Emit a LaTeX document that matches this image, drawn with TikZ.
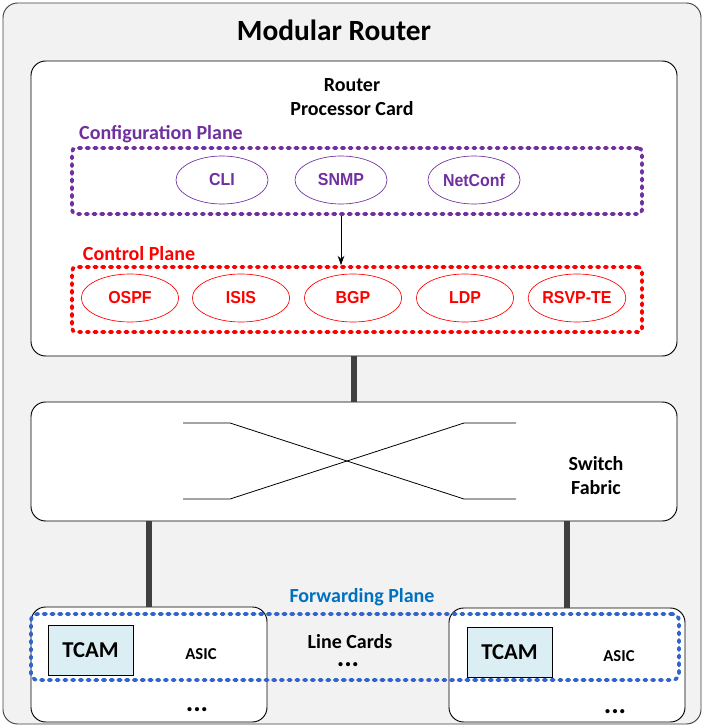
\documentclass[tikz,border=0pt]{standalone}
\usepackage{fontspec}
\setmainfont{Carlito}
\newfontfamily\protofont[FakeStretch=0.92]{Liberation Sans}
\usetikzlibrary{fit,shapes.geometric,arrows.meta,positioning}

\definecolor{cfgpurple}{RGB}{112,48,160}
\definecolor{fwdblue}{RGB}{50,100,205}
\definecolor{fwdtext}{RGB}{0,112,192}
\definecolor{panelgray}{RGB}{242,242,242}
\definecolor{tcamblue}{RGB}{218,238,243}
\definecolor{busgray}{RGB}{64,64,64}

\begin{document}
\begin{tikzpicture}[x=0.75pt, y=-0.75pt,
	card/.style={draw, fill=white, rounded corners=11pt, inner sep=0pt, line width=0.7pt},
	plane/.style={rounded corners=3pt, line width=2.8pt, dash pattern=on 1.8pt off 4pt, line cap=round, inner sep=0pt},
	proto/.style={ellipse, draw, line width=0.5pt, font=\protofont\bfseries\fontsize{13}{15}\selectfont, minimum width=69pt, minimum height=36pt, inner sep=0pt},
	txt/.style={font=\bfseries\fontsize{15}{17.5}\selectfont, align=center},
	more/.style={font=\bfseries\fontsize{21}{24}\selectfont, inner sep=0pt},
	bus/.style={line width=5pt, busgray}]
	\useasboundingbox (0,0) rectangle (704,727);
	
	\node[draw=busgray, fill=panelgray, rounded corners=11pt, line width=0.7pt, inner sep=0pt, fit={(3,3) (701,724)}] (router) {};
	\node[font=\bfseries\fontsize{22}{26}\selectfont] (title) at (334,30) {Modular Router};
	
	% processor card
	\node[card, fit={(31,61) (677,356)}] (proc) {};
	\node[txt] (proccap) at (352,97) {Router\\Processor Card};
	
	\node[plane, draw=cfgpurple, fit={(72,148) (642,214)}] (cfg) {};
	\node[txt, text=cfgpurple] (cfglbl) at (161,134) {Configuration Plane};
	\node[proto, cfgpurple] (cli) at (222,180) {CLI};
	\node[proto, cfgpurple] (snmp) at (341,180) {SNMP};
	\node[proto, cfgpurple] (netconf) at (474,180) {NetConf};
	
	\node[plane, draw=red, fit={(72,267) (642,332)}] (ctl) {};
	\node[txt, text=red] (ctllbl) at (139,254) {Control Plane};
	\foreach \x/\name/\proto in {130/ospf/OSPF, 241/isis/ISIS, 353/bgp/BGP, 465/ldp/LDP, 577/rsvp/RSVP-TE}
		\node[proto, red, minimum width=73pt] (\name) at (\x,298) {\proto};
	
	\draw[-{Stealth[length=7pt, width=5pt]}, line width=0.6pt] (snmp.south |- cfg.south) -- (snmp.south |- ctl.north);
	
	% switch fabric
	\node[card, fit={(31,402) (677,521)}] (fabric) {};
	\draw[line width=0.6pt] (183,423) -- (230,423) -- (464,499) -- (516,499);
	\draw[line width=0.6pt] (183,499) -- (230,499) -- (464,423) -- (516,423);
	\node[txt, font=\bfseries\fontsize{15}{18}\selectfont] (fabriccap) at (596,476) {Switch\\Fabric};
	
	\draw[bus] (proc.south) -- (fabric.north);
	
	% line cards
	\node[card, fit={(31,607) (267,722)}] (lc1) {};
	\node[card, fit={(449,608) (685,722)}] (lc2) {};
	\draw[bus] (lc1.north |- fabric.south) -- (lc1.north);
	\draw[bus] (lc2.north |- fabric.south) -- (lc2.north);
	
	\node[plane, draw=fwdblue, rounded corners=5pt, fit={(31,614) (679,680)}] (fwd) {};
	\node[txt, text=fwdtext] (fwdlbl) at (362,597) {Forwarding Plane};
	
	\node[draw, fill=tcamblue, line width=0.6pt, inner sep=0pt, fit={(48,625) (133,675)}] (tcam1) {};
	\node[font=\bfseries\fontsize{17}{20}\selectfont] at (tcam1) {TCAM};
	\node[draw, fill=tcamblue, line width=0.6pt, inner sep=0pt, fit={(467,627) (552,677)}] (tcam2) {};
	\node[font=\bfseries\fontsize{17}{20}\selectfont] at (tcam2) {TCAM};
	\node[font=\bfseries\fontsize{12.5}{14}\selectfont] (asic1) at (201,654) {ASIC};
	\node[font=\bfseries\fontsize{12.5}{14}\selectfont] (asic2) at (619,656) {ASIC};
	\node[more, anchor=base] (lc1dots) at (197,711) {...};
	\node[more, anchor=base] (lc2dots) at (615,713) {...};
	
	\node[txt] (lccap) at (350,642) {Line Cards};
	\node[more, anchor=base] (lcdots) at (348,666) {...};
\end{tikzpicture}
\end{document}
